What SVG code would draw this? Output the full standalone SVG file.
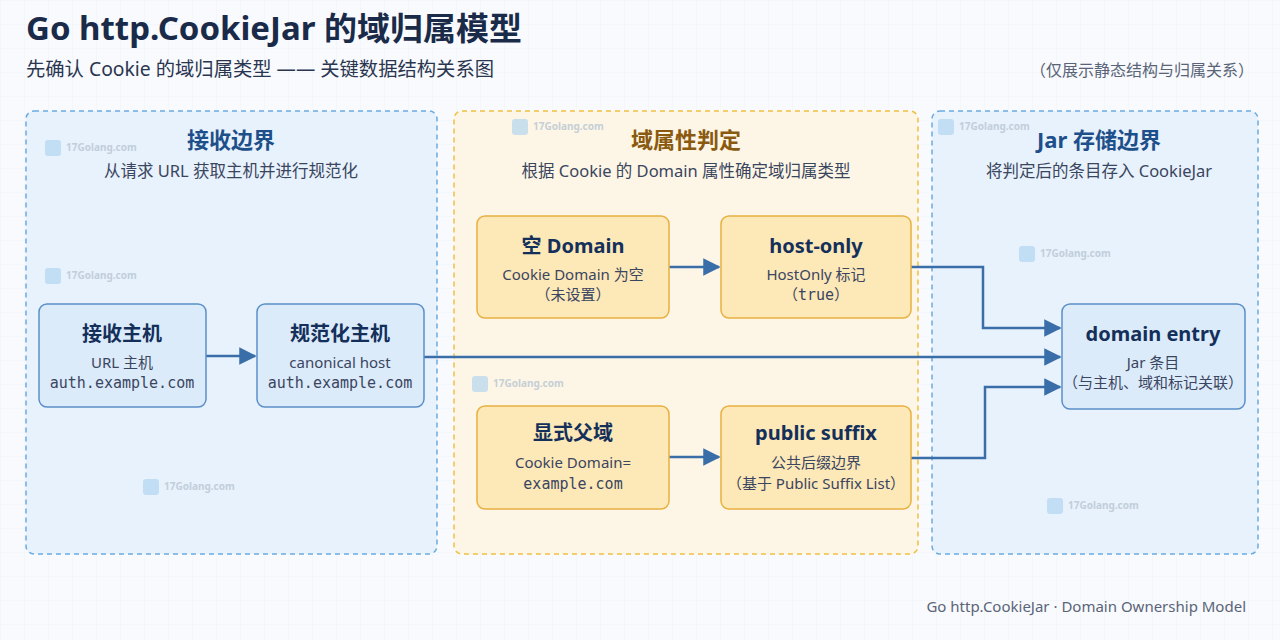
<svg xmlns="http://www.w3.org/2000/svg" width="1280" height="640" viewBox="0 0 1280 640">
<defs>
<pattern id="grid" width="24" height="24" patternUnits="userSpaceOnUse"><path d="M24 0H0V24" fill="none" stroke="#eef2f7" stroke-width="1"/></pattern>
<marker id="ah" viewBox="0 0 10 10" refX="9" refY="5" markerWidth="7" markerHeight="7" orient="auto" markerUnits="strokeWidth"><path d="M0,0L10,5L0,10z" fill="#3a6ea8"/></marker>
<style>
text{font-family:"Noto Sans","Noto Sans CJK SC",sans-serif}
.mono{font-family:"DejaVu Sans Mono","Liberation Mono","Noto Sans CJK SC",monospace}
.zt{font-size:22px;font-weight:bold;text-anchor:middle}
.zs{font-size:16.5px;fill:#3a4560;text-anchor:middle}
.bn{fill:#dcebfa;stroke:#5a8fc8;stroke-width:1.5}
.yn{fill:#fde8b8;stroke:#e8b040;stroke-width:1.5}
.nt{font-size:20px;font-weight:bold;fill:#14305a;text-anchor:middle}
.ns{font-size:15px;fill:#3a4560;text-anchor:middle}
.conn path{fill:none;stroke:#3a6ea8;stroke-width:2.5;marker-end:url(#ah)}
.wm{font-size:10px;font-weight:bold;fill:#b8c6d4;opacity:0.8}
.wi{fill:#a8d0f0;opacity:0.6}
</style>
</defs>
<rect width="1280" height="640" fill="#f8fafd"/>
<rect width="1280" height="640" fill="url(#grid)"/>
<text x="26" y="40" font-size="32" font-weight="bold" fill="#1a2b4a" textLength="496" lengthAdjust="spacingAndGlyphs">Go http.CookieJar 的域归属模型</text>
<text x="26" y="76" font-size="19" fill="#2a3550" textLength="468" lengthAdjust="spacingAndGlyphs">先确认 Cookie 的域归属类型 —— 关键数据结构关系图</text>
<text x="1254" y="76" font-size="16" fill="#5a6478" text-anchor="end">（仅展示静态结构与归属关系）</text>
<g id="zone-receive">
<rect x="26" y="111" width="411" height="443" rx="8" fill="#e8f2fc" stroke="#6aaae0" stroke-width="1.5" stroke-dasharray="5 4"/>
<text x="231" y="148" class="zt" fill="#1d4f8a">接收边界</text>
<text x="231" y="177" class="zs">从请求 URL 获取主机并进行规范化</text>
</g>
<g id="zone-domain">
<rect x="454" y="111" width="464" height="443" rx="8" fill="#fdf6e6" stroke="#f0c040" stroke-width="1.5" stroke-dasharray="5 4"/>
<text x="686" y="148" class="zt" fill="#8a5a10">域属性判定</text>
<text x="686" y="177" class="zs">根据 Cookie 的 Domain 属性确定域归属类型</text>
</g>
<g id="zone-jar">
<rect x="932" y="111" width="326" height="443" rx="8" fill="#e8f2fc" stroke="#6aaae0" stroke-width="1.5" stroke-dasharray="5 4"/>
<text x="1099" y="148" class="zt" fill="#1d4f8a">Jar 存储边界</text>
<text x="1099" y="177" class="zs">将判定后的条目存入 CookieJar</text>
</g>
<g id="watermarks">
<rect x="45" y="140" width="16" height="16" rx="3" class="wi"/><text x="66" y="151" class="wm">17Golang.com</text>
<rect x="45" y="268" width="16" height="16" rx="3" class="wi"/><text x="66" y="279" class="wm">17Golang.com</text>
<rect x="143" y="479" width="16" height="16" rx="3" class="wi"/><text x="164" y="490" class="wm">17Golang.com</text>
<rect x="512" y="119" width="16" height="16" rx="3" class="wi"/><text x="533" y="130" class="wm">17Golang.com</text>
<rect x="472" y="376" width="16" height="16" rx="3" class="wi"/><text x="493" y="387" class="wm">17Golang.com</text>
<rect x="938" y="119" width="16" height="16" rx="3" class="wi"/><text x="959" y="130" class="wm">17Golang.com</text>
<rect x="1019" y="246" width="16" height="16" rx="3" class="wi"/><text x="1040" y="257" class="wm">17Golang.com</text>
<rect x="1047" y="498" width="16" height="16" rx="3" class="wi"/><text x="1068" y="509" class="wm">17Golang.com</text>
</g>
<g class="conn" id="connectors">
<path d="M206 356H255"/>
<path d="M424 357H1060"/>
<path d="M669 267H719"/>
<path d="M669 457H719"/>
<path d="M911 267H983V328H1060"/>
<path d="M911 458H985V387H1060"/>
</g>
<g id="n-recv"><rect x="39" y="304" width="167" height="103" rx="8" class="bn"/>
<text x="122" y="341" class="nt">接收主机</text><text x="122" y="368" class="ns">URL 主机</text><text x="122" y="388" class="ns mono" font-size="14">auth.example.com</text></g>
<g id="n-canon"><rect x="257" y="304" width="167" height="103" rx="8" class="bn"/>
<text x="340" y="341" class="nt">规范化主机</text><text x="340" y="368" class="ns">canonical host</text><text x="340" y="388" class="ns mono" font-size="14">auth.example.com</text></g>
<g id="n-empty"><rect x="477" y="216" width="192" height="102" rx="8" class="yn"/>
<text x="573" y="253" class="nt">空 Domain</text><text x="573" y="280" class="ns">Cookie Domain 为空</text><text x="573" y="300" class="ns">（未设置）</text></g>
<g id="n-hostonly"><rect x="721" y="216" width="190" height="102" rx="8" class="yn"/>
<text x="816" y="253" class="nt">host-only</text><text x="816" y="280" class="ns">HostOnly 标记</text><text x="816" y="300" class="ns mono">（true）</text></g>
<g id="n-parent"><rect x="477" y="406" width="192" height="103" rx="8" class="yn"/>
<text x="573" y="440" class="nt">显式父域</text><text x="573" y="468" class="ns">Cookie Domain=</text><text x="573" y="489" class="ns mono">example.com</text></g>
<g id="n-suffix"><rect x="721" y="406" width="190" height="103" rx="8" class="yn"/>
<text x="816" y="440" class="nt">public suffix</text><text x="816" y="468" class="ns">公共后缀边界</text><text x="816" y="489" class="ns">（基于 Public Suffix List）</text></g>
<g id="n-entry"><rect x="1062" y="304" width="183" height="105" rx="8" class="bn"/>
<text x="1153" y="341" class="nt">domain entry</text><text x="1153" y="368" class="ns">Jar 条目</text><text x="1153" y="388" class="ns">（与主机、域和标记关联）</text></g>
<text x="1246" y="612" font-size="15" fill="#5a6478" text-anchor="end">Go http.CookieJar · Domain Ownership Model</text>
</svg>
